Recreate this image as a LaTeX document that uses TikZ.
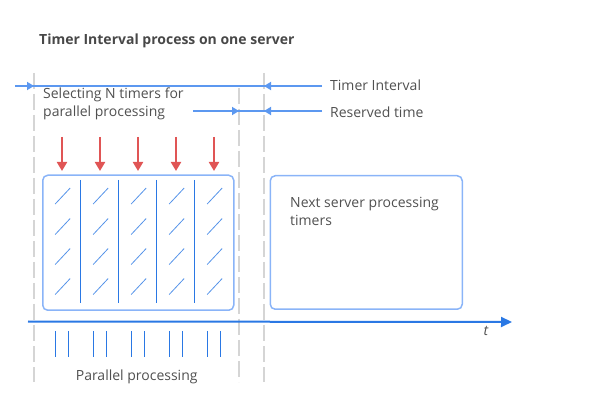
\documentclass[tikz,border=0pt]{standalone}
\usepackage{fontspec}
\setmainfont{Open Sans}
\usetikzlibrary{arrows.meta}
\definecolor{txt}{HTML}{505050}
\definecolor{gdash}{HTML}{D5D5D5}
\definecolor{lblue}{HTML}{8AB4F8}
\definecolor{mblue}{HTML}{5C98F0}
\definecolor{dblue}{HTML}{2A78E4}
\definecolor{ared}{HTML}{E05555}
\tikzset{
  lbl/.style={inner sep=0pt, text=txt, font=\fontsize{14}{18.5}\selectfont, anchor=west, align=left},
  guide/.style={draw=gdash, line width=1.5pt, dash pattern=on 16pt off 5pt},
  span/.style={draw=mblue, line width=2pt},
  tipr/.style={-{Triangle[length=7pt,width=8pt]}},
  box/.style={draw=lblue, line width=1.5pt, rounded corners=5pt},
  sep/.style={draw=dblue, line width=1pt},
  slash/.style={draw=dblue!80, line width=0.8pt},
  tick/.style={draw=dblue, line width=1pt},
  redarrow/.style={draw=ared, line width=2pt, -{Triangle[length=9pt,width=10pt]}},
}
\begin{document}
\begin{tikzpicture}[x=1pt,y=-1pt]
\useasboundingbox (0,0) rectangle (598,417);
% title
\node[inner sep=0pt, anchor=west, text=txt!90!black, font=\fontsize{14}{16}\bfseries\selectfont] (title) at (39,41) {Timer Interval process on one server};
% guides
\coordinate (g1t) at (34,73); \coordinate (g1b) at (34,382);
\coordinate (g2t) at (239,88); \coordinate (g2b) at (239,382);
\coordinate (g3t) at (264,73); \coordinate (g3b) at (264,382);
\draw[guide] (g1t) -- (g1b);
\draw[guide] (g2t) -- (g2b);
\draw[guide] (g3t) -- (g3b);
% timer interval span
\node[lbl] (ti) at (330,85.5) {Timer Interval};
\node[lbl] (rt) at (330,112) {Reserved time};
\coordinate (ti0) at (15,86);
\coordinate (ti1) at (34,86);
\coordinate (ti2) at (264,86);
\coordinate (ti3) at (322,86);
\draw[span] (ti0) -- (ti3);
\draw[span,tipr] (ti0) -- (ti1);
\draw[span,tipr] (ti3) -- (ti2);
\coordinate (rt0) at (193,111);
\coordinate (rt1) at (239,111);
\coordinate (rt2) at (264,111);
\coordinate (rt3) at (322,111);
\draw[span] (rt0) -- (rt3);
\draw[span,tipr] (rt0) -- (rt1);
\draw[span,tipr] (rt3) -- (rt2);
% selecting text
\node[lbl] (sel) at (43,104) {Selecting N timers for\\parallel processing};
% red arrows
\foreach \x [count=\i] in {62,100,138,176,214}{
  \coordinate (ra\i) at (\x,137);
  \coordinate (rb\i) at (\x,171);
  \draw[redarrow] (ra\i) -- (rb\i);
}
% main box
\node[box, minimum width=191pt, minimum height=135pt, anchor=north west, inner sep=0pt] (mb) at (42,174.5) {};
\foreach \x in {80.3,118.3,156.3,194.3}{
  \draw[sep] (\x,180) -- (\x,303.5);
}
\foreach \x in {62.7,100.7,138.7,176.7,214.7}{
  \foreach \y in {196,226.5,256.5,286.5}{
    \draw[slash] (\x-7.5,\y+8) -- (\x+7.5,\y-8);
  }
}
% next server box
\node[box, minimum width=192pt, minimum height=133.5pt, anchor=north west, inner sep=0pt] (nb) at (269.5,175) {};
\node[lbl] (nt) at (290,211.5) {Next server processing\\timers};
% time axis
\coordinate (ax0) at (28,321.5);
\coordinate (ax1) at (512,322);
\draw[draw=dblue, line width=2pt, -{Triangle[length=11pt,width=10pt]}] (ax0) -- (ax1);
\node[inner sep=0pt, text=txt, font=\fontsize{14}{16}\itshape\selectfont] (t) at (486,331) {t};
% ticks
\foreach \x in {55.7,68.7,93.3,106.3,131.3,144.3,169.3,182.3,207.3,220.3}{
  \draw[tick] (\x,331) -- (\x,357);
}
\node[inner sep=0pt, text=txt, font=\fontsize{14}{16}\selectfont] (pp) at (136.7,377) {Parallel processing};
\end{tikzpicture}
\end{document}
